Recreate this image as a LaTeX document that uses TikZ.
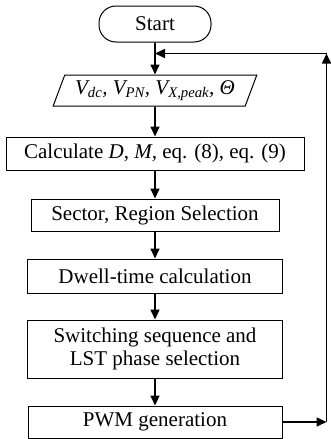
\documentclass[tikz,border=0pt]{standalone}
\usepackage{fontspec}
\setmainfont{Liberation Serif}
\usetikzlibrary{positioning}
\usetikzlibrary{shapes.geometric}
\usetikzlibrary{arrows.meta}

\begin{document}
\begin{tikzpicture}[
x = 1pt, y = -1pt,
every node/.style = {draw, line width = 1pt, font = \fontsize{21}{23}\selectfont, inner sep = 0pt, align = center},
  box/.style = {rectangle, minimum height = #1},
  arr/.style = {line width = 1.6pt, -{Triangle[length = 10pt, width = 9pt]}}
]
\useasboundingbox (0,0) rectangle (330,439);
\node[rounded corners = 17pt, minimum width = 112pt, minimum height = 36pt] (start) at (155,24) {Start};
\coordinate[below = 11pt of start.south] (join);
\node[trapezium, trapezium left angle = 63, trapezium right angle = 117, trapezium stretches = true,
  minimum width = 204pt, minimum height = 31pt, below = 32pt of start] (input)
  {\itshape V\textsubscript{dc}, V\textsubscript{PN}, V\textsubscript{X,peak}, Θ};
\node[box = 33pt, minimum width = 298pt, below = 30pt of input] (calc)
  {Calculate \textit{D}, \textit{M,} eq. (8), eq. (9)};
\node[box = 32pt, minimum width = 248pt, below = 28pt of calc] (sector) {Sector, Region Selection};
\node[box = 34pt, minimum width = 255pt, below = 27pt of sector] (dwell) {Dwell-time calculation};
\node[box = 58pt, minimum width = 255pt, below = 26pt of dwell] (switch)
  {Switching sequence and\\ LST phase selection};
\node[box = 32pt, minimum width = 254pt, below = 27pt of switch] (pwm) {PWM generation};

\draw[arr] (start) -- (input);
\draw[arr] (input) -- (calc);
\draw[arr] (calc) -- (sector);
\draw[arr] (sector) -- (dwell);
\draw[arr] (dwell) -- (switch);
\draw[arr] (switch) -- (pwm);
% loop back to the input
\draw[arr] (pwm.east) -- ++(44,0) coordinate (turn);
\draw[arr] (turn) -- (turn |- join);
\draw[arr] (turn |- join) -- (join);
\end{tikzpicture}
\end{document}
